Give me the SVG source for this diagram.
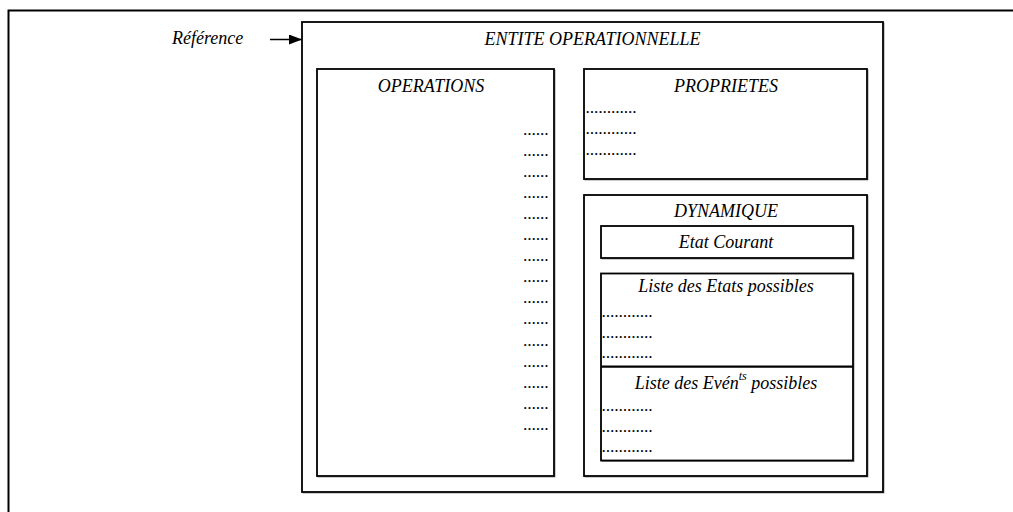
<svg xmlns="http://www.w3.org/2000/svg" width="1013" height="512" viewBox="0 0 1013 512">
<style>
text{font-family:"Liberation Serif","Times New Roman",serif;font-style:italic;font-size:18px;fill:#000}
.c{text-anchor:middle}
.e{text-anchor:end}
.d{font-size:17px}
.box{fill:#fff;stroke:#000;stroke-width:1.8}
.sh{fill:none;stroke:#999;stroke-width:1}
</style>
<defs>
<marker id="ah" markerWidth="13" markerHeight="10" refX="13" refY="5" orient="auto" markerUnits="userSpaceOnUse">
<path d="M0,0 L13,5 L0,10 Z" fill="#000"/>
</marker>
</defs>
<rect x="0" y="0" width="1013" height="512" fill="#fff"/>
<path d="M8.5,512 V10.5 H1013" fill="none" stroke="#000" stroke-width="2"/>

<g id="reference">
<text x="172" y="43.5">Référence</text>
</g>
<g id="connectors">
<line x1="270" y1="39.5" x2="302" y2="39.5" stroke="#000" stroke-width="1.5" marker-end="url(#ah)"/>
</g>

<g id="entite">
<rect class="sh" x="303" y="23" width="581" height="470"/>
<rect class="box" x="302" y="22" width="581" height="470"/>
<text class="c" x="592.5" y="45">ENTITE OPERATIONNELLE</text>
</g>

<g id="operations">
<rect class="sh" x="318" y="70" width="237" height="407"/>
<rect class="box" x="317" y="69" width="237" height="407"/>
<text class="c" x="431" y="92">OPERATIONS</text>
<text class="e d" x="549" y="134.5">......</text>
<text class="e d" x="549" y="155.6">......</text>
<text class="e d" x="549" y="176.7">......</text>
<text class="e d" x="549" y="197.8">......</text>
<text class="e d" x="549" y="218.9">......</text>
<text class="e d" x="549" y="240">......</text>
<text class="e d" x="549" y="261.1">......</text>
<text class="e d" x="549" y="282.2">......</text>
<text class="e d" x="549" y="303.3">......</text>
<text class="e d" x="549" y="324.4">......</text>
<text class="e d" x="549" y="345.5">......</text>
<text class="e d" x="549" y="366.6">......</text>
<text class="e d" x="549" y="387.7">......</text>
<text class="e d" x="549" y="408.8">......</text>
<text class="e d" x="549" y="429.9">......</text>
</g>

<g id="proprietes">
<rect class="sh" x="585" y="70" width="283" height="110"/>
<rect class="box" x="584" y="69" width="283" height="110"/>
<text class="c" x="726" y="92">PROPRIETES</text>
<text class="d" x="586" y="113">............</text>
<text class="d" x="586" y="134">............</text>
<text class="d" x="586" y="154.5">............</text>
</g>

<g id="dynamique">
<rect class="sh" x="585" y="196" width="283" height="281"/>
<rect class="box" x="584" y="195" width="283" height="281"/>
<text class="c" x="726" y="217">DYNAMIQUE</text>
</g>

<g id="etat-courant">
<rect class="sh" x="602" y="227" width="252" height="32"/>
<rect class="box" x="601" y="226" width="252" height="32"/>
<text class="c" x="726" y="248">Etat Courant</text>
</g>

<g id="listes">
<rect class="sh" x="602" y="274.5" width="252" height="187"/>
<rect class="box" x="601" y="273.5" width="252" height="187"/>
<line x1="601" y1="366.7" x2="853" y2="366.7" stroke="#000" stroke-width="2.2"/>
<text class="c" x="726" y="292">Liste des Etats possibles</text>
<text class="d" x="602" y="317">............</text>
<text class="d" x="602" y="338">............</text>
<text class="d" x="602" y="358">............</text>
<text class="c" x="726" y="389">Liste des Evén<tspan font-size="12" dy="-9">ts</tspan><tspan dy="9"> possibles</tspan></text>
<text class="d" x="602" y="410.5">............</text>
<text class="d" x="602" y="431.5">............</text>
<text class="d" x="602" y="452">............</text>
</g>
</svg>
